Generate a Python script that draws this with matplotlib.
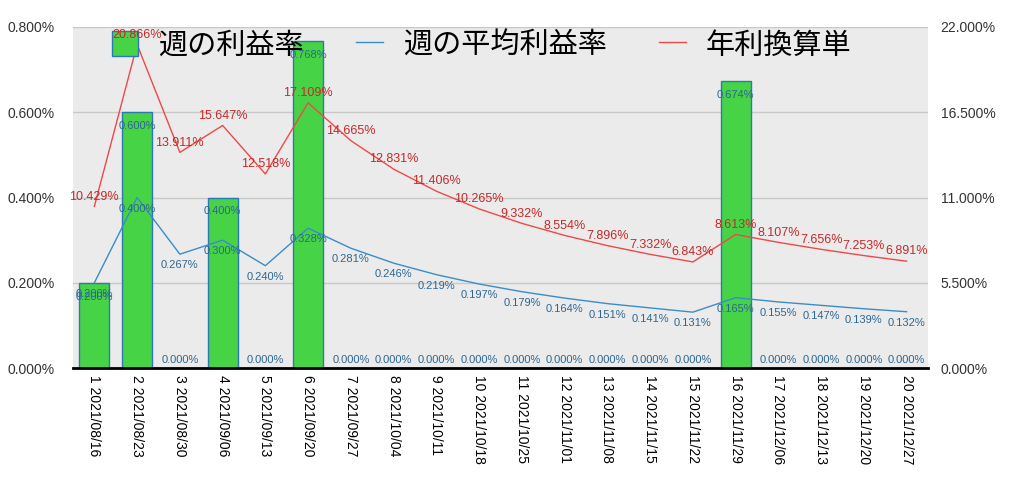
import matplotlib

matplotlib.use("Agg")
import matplotlib.pyplot as plt
import numpy as np

plt.rcParams["font.family"] = ["Liberation Sans", "Noto Sans CJK JP", "DejaVu Sans"]

weeks = [
    "1 2021/08/16", "2 2021/08/23", "3 2021/08/30", "4 2021/09/06", "5 2021/09/13",
    "6 2021/09/20", "7 2021/09/27", "8 2021/10/04", "9 2021/10/11", "10 2021/10/18",
    "11 2021/10/25", "12 2021/11/01", "13 2021/11/08", "14 2021/11/15", "15 2021/11/22",
    "16 2021/11/29", "17 2021/12/06", "18 2021/12/13", "19 2021/12/20", "20 2021/12/27",
]
weekly_rate = [0.200, 0.600, 0.000, 0.400, 0.000, 0.768, 0.000, 0.000, 0.000, 0.000,
               0.000, 0.000, 0.000, 0.000, 0.000, 0.674, 0.000, 0.000, 0.000, 0.000]
avg_rate = [0.200, 0.400, 0.267, 0.300, 0.240, 0.328, 0.281, 0.246, 0.219, 0.197,
            0.179, 0.164, 0.151, 0.141, 0.131, 0.165, 0.155, 0.147, 0.139, 0.132]
annual_rate = [10.429, 20.866, 13.911, 15.647, 12.518, 17.109, 14.665, 12.831, 11.406, 10.265,
               9.332, 8.554, 7.896, 7.332, 6.843, 8.613, 8.107, 7.656, 7.253, 6.891]

BAR_GREEN = "#46d446"
BAR_EDGE = "#2b78b4"
BLUE = "#3a8cc8"
BLUE_TXT = "#2d6690"
RED = "#f04848"
RED_TXT = "#c82828"

fig = plt.figure(figsize=(10.24, 4.87), dpi=100)
ax = fig.add_axes([73 / 1024, 1 - 368 / 487, (928 - 73) / 1024, (368 - 27) / 487])
ax.set_facecolor("#ebebeb")
x = np.arange(len(weeks))

bars = ax.bar(x, weekly_rate, 0.7, color=BAR_GREEN, edgecolor=BAR_EDGE, linewidth=1,
              label="週の利益率", zorder=2)
avg_line, = ax.plot(x, avg_rate, color=BLUE, linewidth=1, label="週の平均利益率", zorder=3)

# bar value labels: inside the top of the bar, or just above the axis for zero weeks
for xi, v in zip(x, weekly_rate):
    dy = -10 if v > 0 else 6
    ax.annotate(f"{v:.3f}%", (xi, v), xytext=(0, dy), textcoords="offset points",
                ha="center", va="center", fontsize=8, color=BLUE_TXT, zorder=5)
for xi, v in zip(x, avg_rate):
    ax.annotate(f"{v:.3f}%", (xi, v), xytext=(0, -8), textcoords="offset points",
                ha="center", va="center", fontsize=8, color=BLUE_TXT, zorder=5)

left_ticks = [0, 0.2, 0.4, 0.6, 0.8]
ax.set_ylim(0, 0.8)
ax.set_xlim(-0.5, len(weeks) - 0.5)
ax.set_yticks(left_ticks)
ax.set_yticklabels([f"{t:.3f}%" for t in left_ticks])
ax.yaxis.grid(True, color="#c8c8c8", linewidth=1)
ax.set_axisbelow(True)
ax.set_xticks(x)
ax.set_xticklabels(weeks, rotation=270, fontsize=10)
ax.tick_params(axis="y", length=0, pad=13, labelsize=10, colors="#333333")
ax.tick_params(axis="x", length=0, pad=5)
for s in ["left", "right", "top"]:
    ax.spines[s].set_visible(False)
ax.spines["bottom"].set_linewidth(2)
ax.spines["bottom"].set_color("black")

ax2 = ax.twinx()
ann_line, = ax2.plot(x, annual_rate, color=RED, linewidth=1, label="年利換算単", zorder=3)
for xi, v in zip(x, annual_rate):
    ax2.annotate(f"{v:.3f}%", (xi, v), xytext=(0, 7), textcoords="offset points",
                 ha="center", va="center", fontsize=9, color=RED_TXT, zorder=6)
right_ticks = [0, 5.5, 11, 16.5, 22]
ax2.set_ylim(0, 22)
ax2.set_yticks(right_ticks)
ax2.set_yticklabels([f"{t:.3f}%" for t in right_ticks])
ax2.tick_params(axis="y", length=0, pad=9, labelsize=10, colors="#333333")
for s in ax2.spines.values():
    s.set_visible(False)

# legend sits under the red labels, as in the original
leg = ax2.legend([bars, avg_line, ann_line], ["週の利益率", "週の平均利益率", "年利換算単"],
                 loc="upper left", bbox_to_anchor=(97 / 1024, 1 - 16 / 487),
                 bbox_transform=fig.transFigure, ncol=3,
                 frameon=False, handlelength=0.9, handleheight=0.9,
                 handletextpad=0.7, columnspacing=1.8, borderpad=0,
                 prop={"family": ["Noto Sans CJK JP", "DejaVu Sans"], "size": 21})
leg.set_zorder(4)

fig.savefig("out.png", dpi=100)
